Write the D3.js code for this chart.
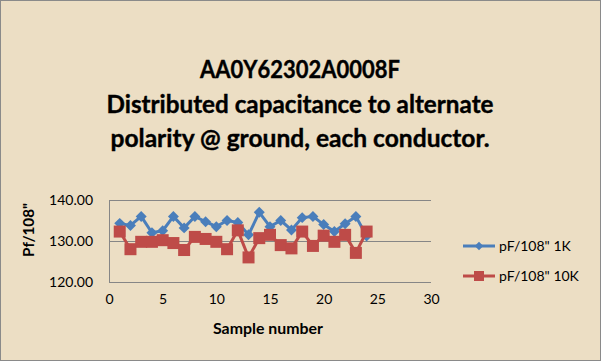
<!DOCTYPE html>
<html><head><meta charset="utf-8">
<script src="https://cdn.jsdelivr.net/npm/d3@7"></script>
<style>html,body{margin:0;padding:0;background:#fff}svg{display:block}</style>
</head><body>
<svg id="c" width="601" height="361"></svg>
<script>
const samples = d3.range(1, 25);
const s1K = [134.3,133.8,136.0,132.0,132.5,136.0,133.2,136.0,134.7,133.5,135.0,134.5,131.5,137.0,133.5,135.0,132.7,135.7,136.0,134.0,132.3,134.2,136.0,131.2];
const s10K = [132.3,128.0,129.8,129.8,130.2,129.5,127.8,131.0,130.5,129.8,128.0,132.6,126.0,130.7,131.5,129.0,128.2,132.3,128.8,131.3,129.8,131.5,127.1,132.3];
const seriesNames = ['pF/108" 1K', 'pF/108" 10K'];
const xTicks = [0,5,10,15,20,25,30];
const yTicks = [120,130,140];
const titleLines = ["AA0Y62302A0008F", "Distributed capacitance to alternate", "polarity @ ground, each conductor."];

const font = "Lato, 'Open Sans', sans-serif";
const svg = d3.select("#c");
svg.append("rect").attr("x",0.5).attr("y",0.5).attr("width",600).attr("height",360)
  .attr("fill","#ECDEC4").attr("stroke","#8a8a8a");

const x = d3.scaleLinear().domain([0,30]).range([109,431]);
const y = d3.scaleLinear().domain([120,140]).range([282,200]);

// title
const tw = [200, 387, 379];
const tb = [78, 113, 147];
titleLines.forEach((t,i)=>{
  svg.append("text").attr("x",300).attr("y",tb[i]).attr("text-anchor","middle")
    .attr("font-family",font).attr("font-weight","bold").attr("font-size",25)
    .attr("textLength",tw[i]).attr("lengthAdjust","spacingAndGlyphs")
    .attr("fill","#000").attr("stroke","#000").attr("stroke-width",0.4).text(t);
});

// gridlines
svg.append("g").selectAll("line").data(yTicks).join("line")
  .attr("x1",x(0)).attr("x2",x(30)).attr("y1",d=>y(d)+0.5).attr("y2",d=>y(d)+0.5)
  .attr("stroke","#868686").attr("stroke-width",1);
svg.append("line").attr("x1",x(0)+0.5).attr("x2",x(0)+0.5).attr("y1",y(140)).attr("y2",y(120))
  .attr("stroke","#868686");

// axes labels
const yAxis = d3.axisLeft(y).tickValues(yTicks).tickFormat(d3.format(".2f")).tickSize(0).tickPadding(16);
const gy = svg.append("g").attr("transform",`translate(${x(0)},0)`).call(yAxis);
gy.select(".domain").remove();
gy.selectAll("text").attr("font-family",font).attr("font-size",14).attr("fill","#000");

const xAxis = d3.axisBottom(x).tickValues(xTicks).tickSize(0).tickPadding(12);
const gx = svg.append("g").attr("transform",`translate(0,${y(120)})`).call(xAxis);
gx.select(".domain").remove();
gx.selectAll("text").attr("font-family",font).attr("font-size",14).attr("fill","#000");

svg.append("text").attr("x",268).attr("y",334).attr("text-anchor","middle")
  .attr("font-family",font).attr("font-weight","bold").attr("font-size",16)
  .attr("textLength",110).attr("lengthAdjust","spacingAndGlyphs").text("Sample number");
svg.append("text").attr("transform","translate(34,230) rotate(-90)").attr("text-anchor","middle")
  .attr("font-family",font).attr("font-weight","bold").attr("font-size",16)
  .attr("textLength",54).attr("lengthAdjust","spacingAndGlyphs").text('Pf/108"');

const colors = ["#4A7EBB","#BE4B48"];
const line = d3.line().x((d,i)=>x(samples[i])).y(d=>y(d));

function drawSeries(vals, idx){
  svg.append("path").datum(vals).attr("d",line).attr("fill","none")
    .attr("stroke",colors[idx]).attr("stroke-width",3).attr("stroke-linejoin","round");
  const g = svg.append("g");
  if(idx===0){
    g.selectAll("path").data(vals).join("path")
      .attr("d",d3.symbol().type(d3.symbolSquare).size(60)())
      .attr("transform",(d,i)=>`translate(${x(samples[i])},${y(d)}) rotate(45)`)
      .attr("fill",colors[idx]);
  } else {
    g.selectAll("rect").data(vals).join("rect")
      .attr("x",(d,i)=>x(samples[i])-6).attr("y",d=>y(d)-6)
      .attr("width",12).attr("height",12).attr("fill",colors[idx]);
  }
}
drawSeries(s1K,0);
drawSeries(s10K,1);

// legend
const ly = [246,276];
seriesNames.forEach((n,i)=>{
  svg.append("line").attr("x1",463).attr("x2",495).attr("y1",ly[i]).attr("y2",ly[i])
    .attr("stroke",colors[i]).attr("stroke-width",3);
  if(i===0){
    svg.append("path").attr("d",d3.symbol().type(d3.symbolSquare).size(36)())
      .attr("transform",`translate(479,${ly[i]}) rotate(45)`).attr("fill",colors[i]);
  } else {
    svg.append("rect").attr("x",474).attr("y",ly[i]-5).attr("width",10).attr("height",10).attr("fill",colors[i]);
  }
  svg.append("text").attr("x",499).attr("y",ly[i]+5).attr("font-family",font).attr("font-size",14)
    .attr("fill","#000").text(n);
});
</script>
</body></html>
